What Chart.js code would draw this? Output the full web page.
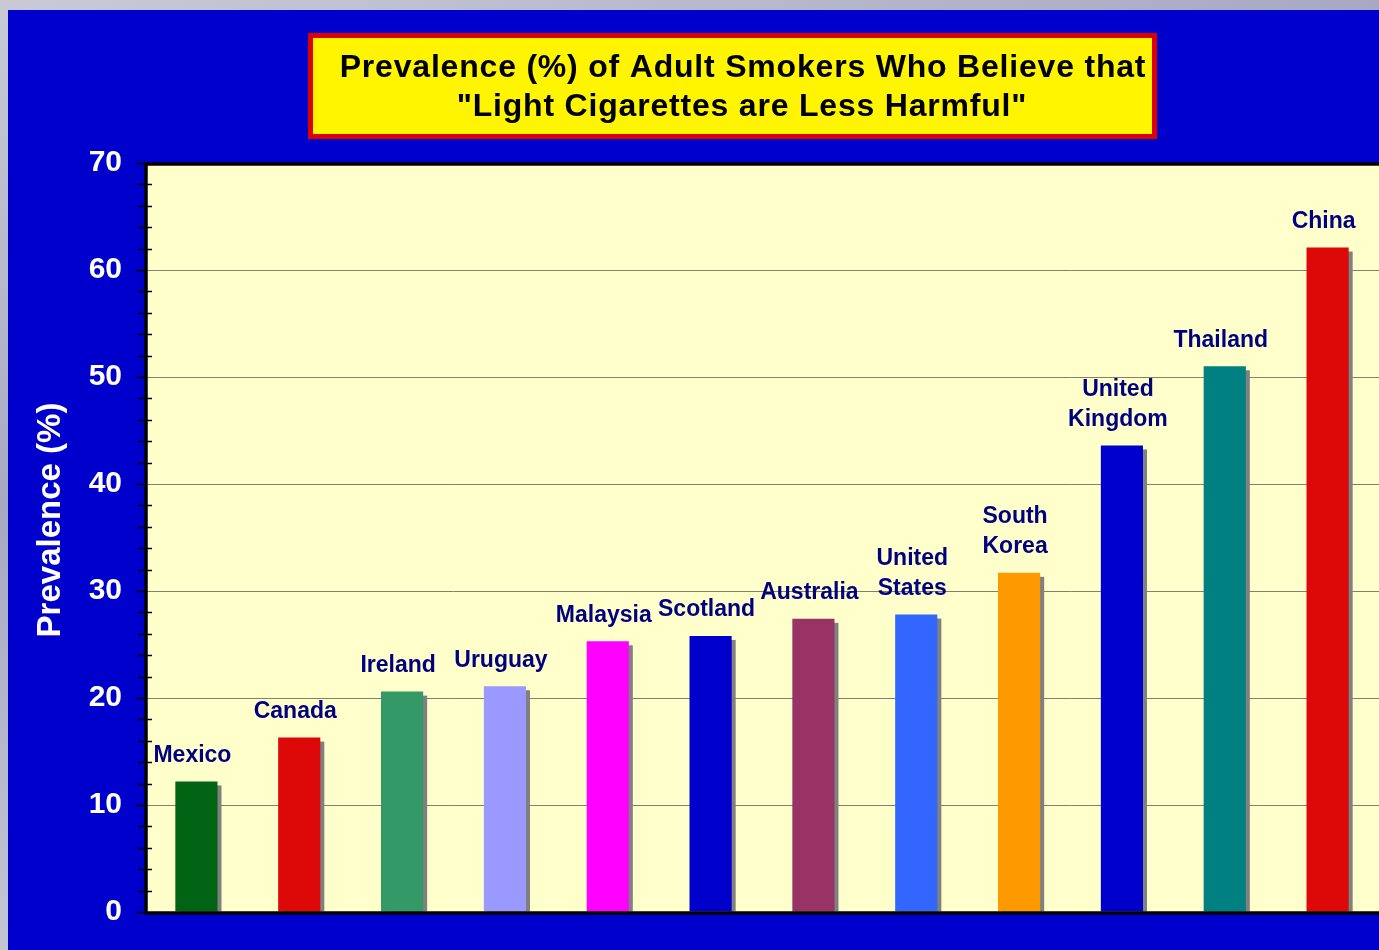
<!DOCTYPE html>
<html>
<head>
<meta charset="utf-8">
<script src="https://cdn.jsdelivr.net/npm/chart.js@4.4.1/dist/chart.umd.min.js"></script>
<style>
  html, body { margin: 0; padding: 0; width: 1379px; height: 950px; overflow: hidden;
    background: linear-gradient(160deg, #c9cad6 0%, #a7a9c2 35%, #e2e2e8 100%); }
  #chart { position: absolute; left: 8px; top: 10px; width: 1371px; height: 940px; background: #0000CC; display: block; }
</style>
</head>
<body>
<canvas id="chart" width="1371" height="940"></canvas>
<script>
// Survey data: share of adult smokers who think "light" cigarettes are less harmful
const countries = [
  ['Mexico'], ['Canada'], ['Ireland'], ['Uruguay'], ['Malaysia'], ['Scotland'],
  ['Australia'], ['United', 'States'], ['South', 'Korea'], ['United', 'Kingdom'],
  ['Thailand'], ['China']
];
const prevalence = [12.2, 16.3, 20.6, 21.1, 25.3, 25.8, 27.4, 27.8, 31.7, 43.6, 51.0, 62.1];
const barColors = [
  '#006414', '#DD0808', '#339966', '#9999FF', '#FF00FF', '#0000CC',
  '#993366', '#3366FF', '#FF9900', '#0000CC', '#008080', '#DD0808'
];
const titleLines = [
  'Prevalence (%) of Adult Smokers Who Believe that',
  '"Light Cigarettes are Less Harmful"'
];
const yAxisTitle = 'Prevalence (%)';
const yMin = 0, yMax = 70, yStep = 10, yMinorStep = 2;

const FONT = '"Liberation Sans", Arial, Helvetica, sans-serif';

// Pale yellow plot background
const plotBackground = {
  id: 'plotBackground',
  beforeDraw(chart) {
    const a = chart.chartArea;
    const ctx = chart.ctx;
    ctx.save();
    ctx.fillStyle = '#FFFFCC';
    ctx.fillRect(a.left, a.top, a.right - a.left, a.bottom - a.top);
    ctx.restore();
  }
};

// Yellow title panel with a red frame, plus the rotated value-axis caption
const titlePanel = {
  id: 'titlePanel',
  afterDraw(chart) {
    const ctx = chart.ctx;
    ctx.save();
    ctx.fillStyle = '#DD0000';
    ctx.fillRect(300, 23, 849, 106);
    ctx.fillStyle = '#FFF500';
    ctx.fillRect(305, 28, 839, 96);
    ctx.fillStyle = '#000000';
    ctx.font = 'bold 32px ' + FONT;
    ctx.letterSpacing = '0.8px';
    ctx.textAlign = 'center';
    ctx.textBaseline = 'middle';
    ctx.fillText(titleLines[0], 735, 58);
    ctx.fillText(titleLines[1], 734, 97);
    ctx.restore();

    ctx.save();
    ctx.translate(43, 510);
    ctx.rotate(-Math.PI / 2);
    ctx.fillStyle = '#FFFFFF';
    ctx.font = 'bold 33px ' + FONT;
    ctx.textAlign = 'center';
    ctx.textBaseline = 'middle';
    ctx.fillText(yAxisTitle, 0, 0);
    ctx.restore();
  }
};

// Flat grey drop shadow behind each bar
const barShadow = {
  id: 'barShadow',
  beforeDatasetsDraw(chart) {
    const ctx = chart.ctx;
    const meta = chart.getDatasetMeta(0);
    ctx.save();
    ctx.fillStyle = '#808080';
    meta.data.forEach(bar => {
      const w = bar.width;
      ctx.fillRect(bar.x - w / 2 + 4, bar.y + 4, w, bar.base - bar.y - 4);
    });
    ctx.restore();
  }
};

// Black frame on top/left/bottom plus major and minor ticks on the value axis
const axisFrame = {
  id: 'axisFrame',
  afterDatasetsDraw(chart) {
    const ctx = chart.ctx;
    const a = chart.chartArea;
    const y = chart.scales.y;
    ctx.save();
    ctx.strokeStyle = '#000000';
    ctx.lineWidth = 1.5;
    for (let v = yMin; v <= yMax; v += yMinorStep) {
      const py = Math.round(y.getPixelForValue(v)) + 0.5;
      ctx.beginPath();
      if (v % yStep === 0) {
        ctx.moveTo(a.left - 9, py); ctx.lineTo(a.left, py);
      } else {
        ctx.moveTo(a.left - 7, py); ctx.lineTo(a.left + 7, py);
      }
      ctx.stroke();
    }
    ctx.lineWidth = 3.5;
    ctx.beginPath();
    ctx.moveTo(a.left + 1, a.bottom + 2);
    ctx.lineTo(a.left + 1, a.top + 1);
    ctx.lineTo(a.right, a.top + 1);
    ctx.stroke();
    ctx.beginPath();
    ctx.moveTo(a.left, a.bottom + 1);
    ctx.lineTo(a.right, a.bottom + 1);
    ctx.stroke();
    ctx.restore();
  }
};

// Country names above the bars
const barLabels = {
  id: 'barLabels',
  afterDatasetsDraw(chart) {
    const ctx = chart.ctx;
    const meta = chart.getDatasetMeta(0);
    ctx.save();
    ctx.fillStyle = '#000080';
    ctx.font = 'bold 23px ' + FONT;
    ctx.textAlign = 'center';
    ctx.textBaseline = 'middle';
    meta.data.forEach((bar, i) => {
      const lines = countries[i];
      const n = lines.length;
      lines.forEach((t, k) => {
        ctx.fillText(t, bar.x - 4, bar.y - 26 - (n - 1 - k) * 30);
      });
    });
    ctx.restore();
  }
};

new Chart(document.getElementById('chart'), {
  type: 'bar',
  data: {
    labels: countries,
    datasets: [{
      data: prevalence,
      backgroundColor: barColors,
      borderWidth: 0,
      categoryPercentage: 1.0,
      barPercentage: 0.41
    }]
  },
  options: {
    responsive: false,
    animation: false,
    layout: { padding: { top: 153, right: 0, bottom: 38, left: 0 } },
    plugins: {
      legend: { display: false },
      tooltip: { enabled: false },
      title: { display: false }
    },
    scales: {
      x: { display: false },
      y: {
        min: yMin,
        max: yMax,
        afterFit(scale) {
          scale.width = 137;
          scale.paddingTop = 0;
          scale.paddingBottom = 0;
        },
        ticks: {
          stepSize: yStep,
          color: '#FFFFFF',
          font: { family: FONT, size: 30, weight: 'bold' },
          padding: 23
        },
        grid: { color: '#808070', lineWidth: 1, drawTicks: false },
        border: { display: false },
        title: { display: false }
      }
    }
  },
  plugins: [plotBackground, barShadow, axisFrame, barLabels, titlePanel]
});
</script>
</body>
</html>
